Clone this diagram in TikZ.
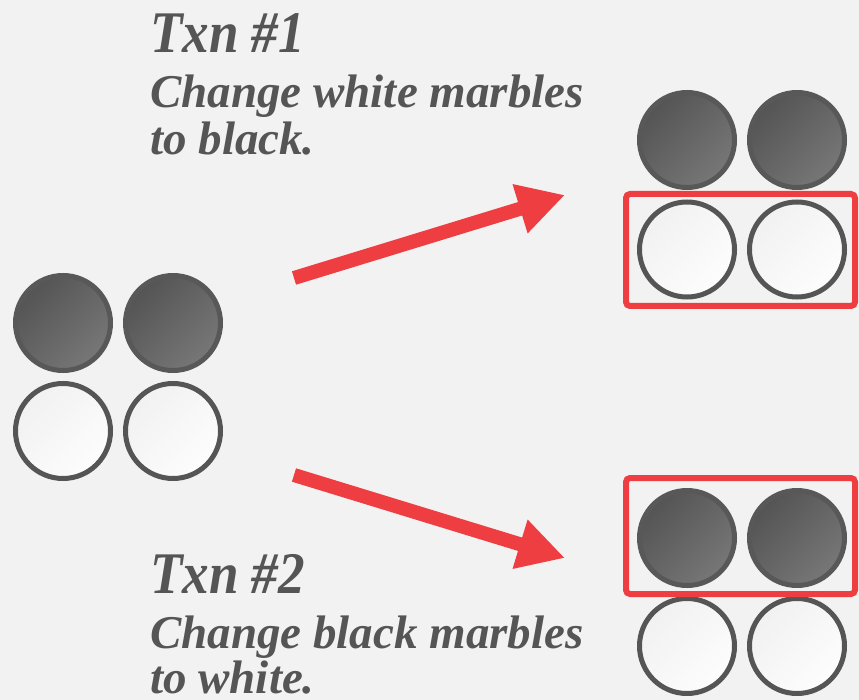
\documentclass[tikz,border=0pt]{standalone}
\usepackage{fontspec}
\setmainfont{Liberation Serif}
\usetikzlibrary{arrows.meta}
\definecolor{bg}{HTML}{F2F2F2}
\definecolor{txt}{HTML}{555555}
\definecolor{redc}{HTML}{EF3E42}
\definecolor{bdark}{HTML}{545454}
\definecolor{blight}{HTML}{777777}
\definecolor{bring}{HTML}{585858}
\definecolor{wdark}{HTML}{F1F1F1}
\definecolor{wlight}{HTML}{FDFDFD}
\tikzset{
  blackm/.style={circle, inner sep=0pt, minimum size=95pt, draw=bring, line width=5pt,
    top color=bdark, bottom color=blight, shading angle=45},
  whitem/.style={circle, inner sep=0pt, minimum size=95pt, draw=txt, line width=5pt,
    top color=wdark, bottom color=wlight, shading angle=45},
  redbox/.style={draw=redc, line width=6pt, rounded corners=4pt},
  redarrow/.style={draw=redc, line width=14pt, -{Triangle[length=47pt,width=48pt]}},
  title/.style={anchor=base west, inner sep=0pt, text=txt, font=\fontsize{59}{60}\selectfont\bfseries\itshape},
  desc/.style={anchor=base west, inner sep=0pt, text=txt, font=\fontsize{47}{50}\selectfont\bfseries\itshape}
}
\begin{document}
\begin{tikzpicture}[x=1pt,y=1pt]
\fill[bg] (0,0) rectangle (859,-700);
\useasboundingbox (0,0) rectangle (859,-700);
% left group
\node[blackm] (lb1) at (63,-323) {};
\node[blackm] (lb2) at (173,-323) {};
\node[whitem] (lw1) at (63,-431) {};
\node[whitem] (lw2) at (173,-431) {};
% top right group
\node[blackm] (tb1) at (687,-140) {};
\node[blackm] (tb2) at (797,-140) {};
\node[whitem] (tw1) at (687,-249.5) {};
\node[whitem] (tw2) at (797,-249.5) {};
\draw[redbox] (626,-194) rectangle (855,-306);
% bottom right group
\node[blackm] (bb1) at (687,-538) {};
\node[blackm] (bb2) at (797,-538) {};
\node[whitem] (bw1) at (687,-646) {};
\node[whitem] (bw2) at (797,-646) {};
\draw[redbox] (626,-478) rectangle (855,-594);
% arrows
\coordinate (a1s) at (294,-278);
\coordinate (a1e) at (565,-195);
\coordinate (a2s) at (294,-475);
\coordinate (a2e) at (565,-558);
\draw[redarrow] (a1s) -- (a1e);
\draw[redarrow] (a2s) -- (a2e);
% texts
\node[title] (t1) at (150,-53) {\scalebox{0.9}[1]{Txn \#1}};
\node[desc] (d1a) at (150,-108) {Change white marbles};
\node[desc] (d1b) at (150,-155) {to black.};
\node[title] (t2) at (150,-593) {\scalebox{0.9}[1]{Txn \#2}};
\node[desc] (d2a) at (150,-648) {Change black marbles};
\node[desc, text depth=0pt] (d2b) at (150,-693) {to white.};
\end{tikzpicture}
\end{document}
